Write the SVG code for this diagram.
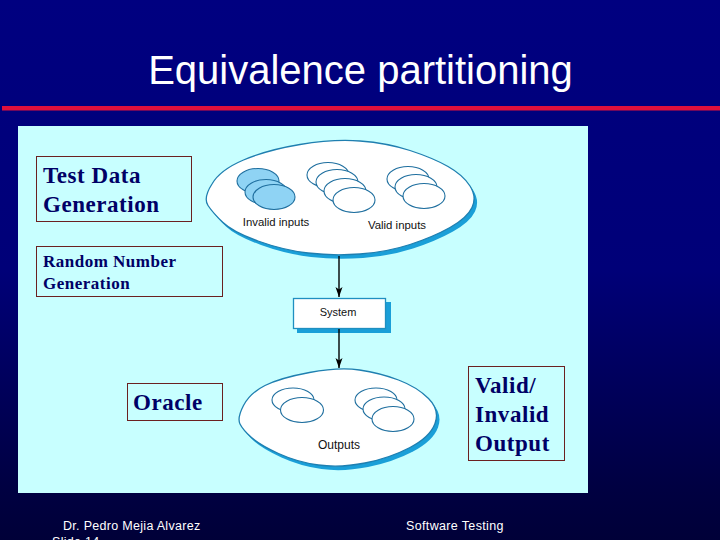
<svg xmlns="http://www.w3.org/2000/svg" width="720" height="540" viewBox="0 0 720 540">
<style>
.sans{font-family:"Liberation Sans",Arial,sans-serif}
.serif{font-family:"Liberation Serif","Times New Roman",serif;fill:#000066;font-weight:bold}
.b23{font-size:23px;letter-spacing:.55px}
.b17{font-size:17px;letter-spacing:.5px}
.foot{font-size:12.5px;fill:#fff;letter-spacing:.3px}
.lab{font-size:11.4px;fill:#111;text-anchor:middle}
.big{fill:#fff;stroke:#1f7fb0;stroke-width:1.3}
.shadow{fill:#1a9fd8}
.s{fill:#fff;stroke:#1f6f9f;stroke-width:1.1}
.i{fill:#8fd3f4;stroke:#1f6f9f;stroke-width:1.1}
.box{fill:#c8ffff;stroke:#6b2020;stroke-width:1}
.conn{stroke:#000;stroke-width:1.4;fill:none;marker-end:url(#arr)}
</style>
<defs>
<linearGradient id="bg" x1="0" y1="0" x2="0" y2="1">
<stop offset="0" stop-color="#000080"/><stop offset=".5" stop-color="#000078"/><stop offset=".9" stop-color="#000042"/><stop offset="1" stop-color="#000038"/>
</linearGradient>
<marker id="arr" markerUnits="userSpaceOnUse" markerWidth="11" markerHeight="8" refX="10" refY="4" orient="auto">
<path d="M0 .5L10 4L0 7.500L2.500 4Z" fill="#000"/>
</marker>
<path id="topShape" d="M212 184Q220 170 243.500 160Q267 150 300 144.500Q333 139 360 141Q387 143 410 150.500Q433 158 448 166.500Q463 175 470 186Q477 197 472 207.500Q467 218 450 227.500Q433 237 410 244.500Q387 252 360 254Q333 256 308 253Q283 250 258 241Q233 232 223 222.500Q213 213 208 205.500Q203 198 212 184Z"/>
<path id="botShape" d="M243.500 405.500Q250 393 265 385.500Q280 378 309.500 372.500Q339 367 359.500 370Q380 373 398.500 380Q417 387 428.500 398.500Q440 410 435 423.500Q430 437 410 447.500Q390 458 365 463Q340 468 318.500 465Q297 462 278.500 453.500Q260 445 251.500 437.500Q243 430 240 424Q237 418 243.500 405.500Z"/>
</defs>
<rect width="720" height="540" fill="url(#bg)"/>
<text class="sans" x="360.500" y="84" font-size="40" fill="#fff" text-anchor="middle">Equivalence partitioning</text>
<rect x="2" y="106" width="718" height="4.500" fill="#e0103c"/>
<rect x="18" y="126" width="570" height="367" fill="#c8ffff"/>
<g id="inputs">
<use href="#topShape" class="shadow" x="3" y="4"/>
<use href="#topShape" class="big"/>
<ellipse class="i" cx="258" cy="181" rx="21" ry="12.500"/>
<ellipse class="i" cx="266" cy="192" rx="21" ry="12.500"/>
<ellipse class="i" cx="274" cy="197" rx="21" ry="12.500"/>
<ellipse class="s" cx="328" cy="175" rx="21" ry="12.500"/>
<ellipse class="s" cx="337" cy="182" rx="21" ry="12.500"/>
<ellipse class="s" cx="345" cy="191" rx="21" ry="12.500"/>
<ellipse class="s" cx="354" cy="200" rx="21" ry="12.500"/>
<ellipse class="s" cx="408" cy="179" rx="21" ry="12.500"/>
<ellipse class="s" cx="416" cy="187" rx="21" ry="12.500"/>
<ellipse class="s" cx="424" cy="196" rx="21" ry="12.500"/>
<text class="sans lab" x="276" y="226">Invalid inputs</text>
<text class="sans lab" x="397" y="229">Valid inputs</text>
</g>
<g id="system">
<rect x="297" y="302" width="94" height="31" fill="#1a9fd8"/>
<rect x="293.500" y="298.500" width="92" height="30" fill="#fff" stroke="#1f8fc0" stroke-width="1.300"/>
<text class="sans lab" x="338" y="316" style="font-size:11px">System</text>
</g>
<g id="outputs">
<use href="#botShape" class="shadow" x="3" y="4"/>
<use href="#botShape" class="big"/>
<ellipse class="s" cx="293" cy="400" rx="21" ry="12"/>
<ellipse class="s" cx="302" cy="410" rx="21.500" ry="12.500"/>
<ellipse class="s" cx="376" cy="400" rx="21" ry="12"/>
<ellipse class="s" cx="384" cy="409" rx="21" ry="12"/>
<ellipse class="s" cx="393" cy="419" rx="21" ry="12.500"/>
<text class="sans lab" x="339" y="449" style="font-size:12px">Outputs</text>
</g>
<g id="connectors">
<path class="conn" d="M339 256V297"/>
<path class="conn" d="M339 329V368"/>
</g>
<g id="test-data">
<rect class="box" x="36.500" y="156.500" width="155" height="65"/>
<text class="serif b23" x="43" y="183">Test Data</text>
<text class="serif b23" x="43" y="212">Generation</text>
</g>
<g id="random-number">
<rect class="box" x="36.500" y="246.500" width="186" height="50"/>
<text class="serif b17" x="43" y="267">Random Number</text>
<text class="serif b17" x="43" y="289">Generation</text>
</g>
<g id="oracle">
<rect class="box" x="127.500" y="383.500" width="95" height="37"/>
<text class="serif b23" x="133" y="410">Oracle</text>
</g>
<g id="valid-output">
<rect class="box" x="468.500" y="366.500" width="96" height="94"/>
<text class="serif b23" x="475" y="393">Valid/</text>
<text class="serif b23" x="475" y="422">Invalid</text>
<text class="serif b23" x="475" y="451">Output</text>
</g>
<text class="sans foot" x="63" y="530">Dr. Pedro Mejia Alvarez</text>
<text class="sans foot" x="406" y="530" style="letter-spacing:.35px">Software Testing</text>
<text class="sans foot" x="52" y="546">Slide 14</text>
</svg>
